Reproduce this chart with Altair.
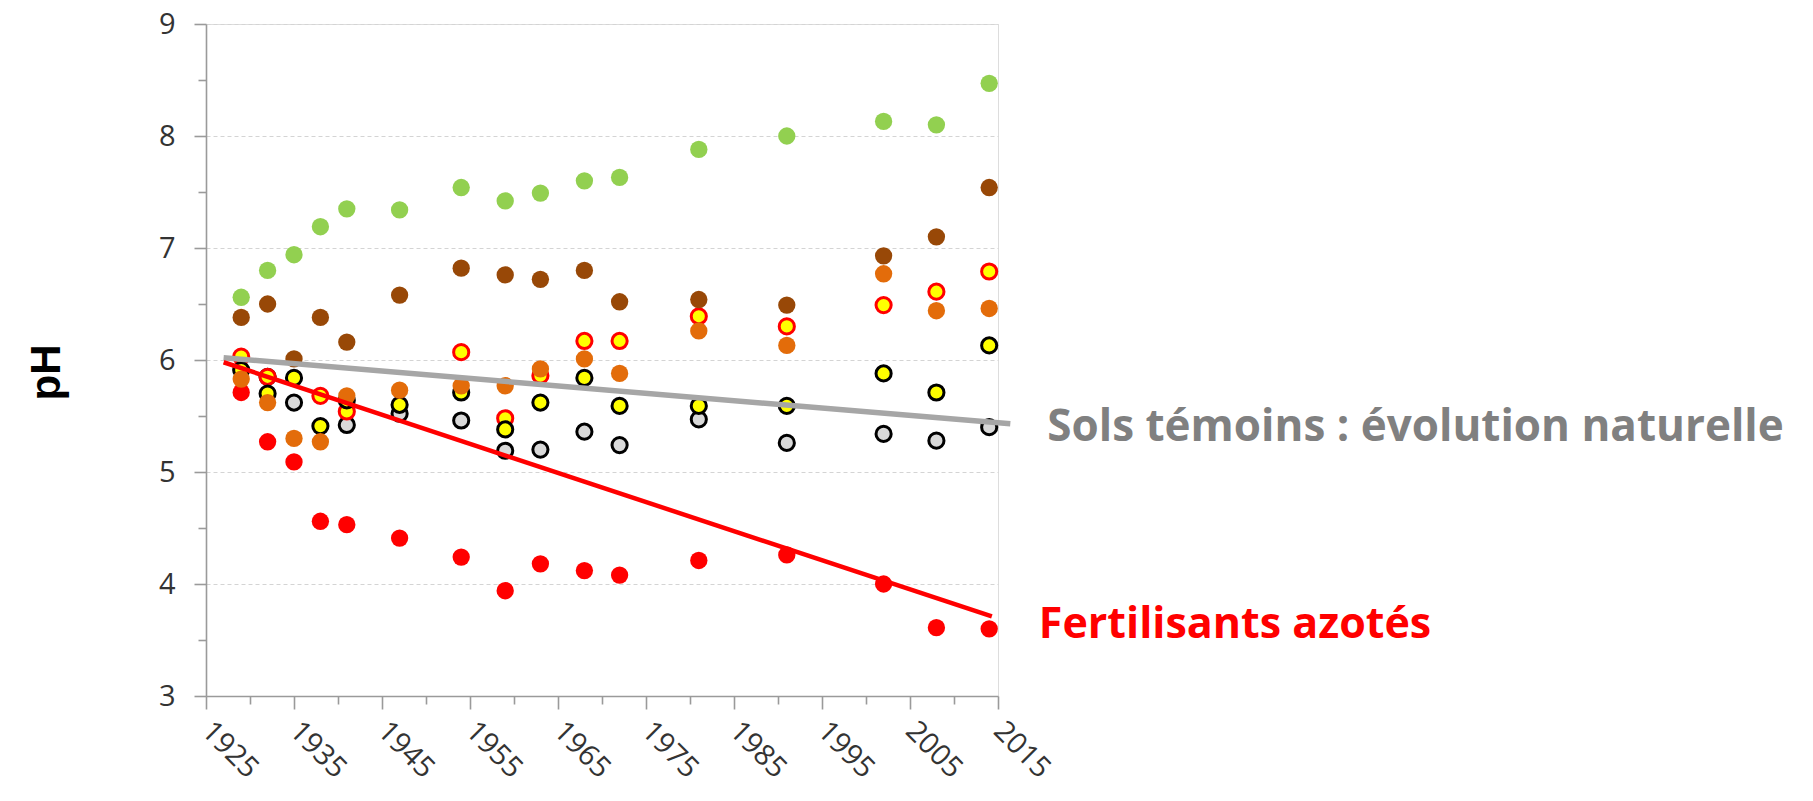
import altair as alt
import pandas as pd

# ---- data ----
years = [1929, 1932, 1935, 1938, 1941, 1947, 1954, 1959, 1963, 1968, 1972, 1981, 1991, 2002, 2008, 2014]

ph_green = [6.56, 6.80, 6.94, 7.19, 7.35, 7.34, 7.54, 7.42, 7.49, 7.60, 7.63, 7.88, 8.00, 8.13, 8.10, 8.47]
ph_brown = [6.38, 6.50, 6.01, 6.38, 6.16, 6.58, 6.82, 6.76, 6.72, 6.80, 6.52, 6.54, 6.49, 6.93, 7.10, 7.54]
ph_orange = [5.83, 5.62, 5.30, 5.27, 5.68, 5.73, 5.77, 5.77, 5.92, 6.01, 5.88, 6.26, 6.13, 6.77, 6.44, 6.46]
ph_yellow_red = [6.03, 5.85, None, 5.68, 5.54, None, 6.07, 5.48, 5.86, 6.17, 6.17, 6.39, 6.30, 6.49, 6.61, 6.79]
ph_yellow_black = [5.91, 5.70, 5.84, 5.41, 5.64, 5.60, 5.71, 5.38, 5.62, 5.84, 5.59, 5.59, 5.59, 5.88, 5.71, 6.13]
ph_grey = [None, 5.85, 5.62, None, 5.42, 5.52, 5.46, 5.19, 5.20, 5.36, 5.24, 5.47, 5.26, 5.34, 5.28, 5.40]
ph_red = [5.71, 5.27, 5.09, 4.56, 4.53, 4.41, 4.24, 3.94, 4.18, 4.12, 4.08, 4.21, 4.26, 4.00, 3.61, 3.60]

trend_grey_years = [1927.0, 2016.4]
trend_grey_ph = [6.02, 5.43]
trend_red_years = [1927.0, 2014.3]
trend_red_ph = [5.98, 3.71]

label_grey = "Sols témoins : évolution naturelle"
label_red = "Fertilisants azotés"

x_major = [1925, 1935, 1945, 1955, 1965, 1975, 1985, 1995, 2005, 2015]
x_minor = [1930, 1940, 1950, 1960, 1970, 1980, 1990, 2000, 2010]
y_major = [3, 4, 5, 6, 7, 8, 9]
y_minor = [3.5, 4.5, 5.5, 6.5, 7.5, 8.5]

# ---- styling ----
AXIS_COL = "#9a9a9a"
FONT = "Open Sans"
PLOT_H = 672
xscale = alt.Scale(domain=[1925, 2015], nice=False, zero=False)
yscale = alt.Scale(domain=[3, 9], nice=False, zero=False)

ax_x_major = alt.Axis(values=x_major, format="d", labelAngle=45, labelAlign="left",
                      labelBaseline="middle", labelFontSize=29, labelFont=FONT,
                      labelColor="#333333", tickSize=13, tickColor=AXIS_COL, tickWidth=1.6,
                      domainColor=AXIS_COL, domainWidth=1.6, grid=False, title=None,
                      labelPadding=17, labelOverlap=False, orient="bottom")
ax_x_minor = alt.Axis(values=x_minor, labels=False, tickSize=8, tickColor=AXIS_COL,
                      tickWidth=1.6, domain=False, grid=False, title=None, orient="bottom")
ax_y_major = alt.Axis(values=y_major, format="d", labelFontSize=29, labelFont=FONT,
                      labelColor="#333333", tickSize=12, tickColor=AXIS_COL, tickWidth=1.6,
                      domainColor=AXIS_COL, domainWidth=1.6, grid=True, gridColor="#d4d4d4",
                      gridDash=[4, 3], gridWidth=1, labelPadding=19, title="pH",
                      titleFont="Liberation Sans", titleFontSize=42, titleFontWeight="bold",
                      titleColor="#000000", titlePadding=90, titleY=348, orient="left")
ax_y_minor = alt.Axis(values=y_minor, labels=False, tickSize=8, tickColor=AXIS_COL,
                      tickWidth=1.6, domain=False, grid=False, title=None, orient="left")


def points(values, fill, stroke=None, axx=None, axy=None):
    df = pd.DataFrame({"annee": years, "pH": values}).dropna()
    if stroke:
        mark = alt.Chart(df).mark_circle(filled=True, fill=fill, stroke=stroke, strokeWidth=3,
                                         size=230, opacity=1, fillOpacity=1, strokeOpacity=1)
    else:
        mark = alt.Chart(df).mark_circle(filled=True, fill=fill, strokeWidth=0, size=300,
                                         opacity=1, fillOpacity=1)
    return mark.encode(
        x=alt.X("annee:Q", scale=xscale, axis=axx),
        y=alt.Y("pH:Q", scale=yscale, axis=axy),
    )


def trend(xs, ys, color, width):
    df = pd.DataFrame({"annee": xs, "pH": ys})
    return alt.Chart(df).mark_line(color=color, strokeWidth=width, clip=False).encode(
        x=alt.X("annee:Q", scale=xscale, axis=None),
        y=alt.Y("pH:Q", scale=yscale, axis=None),
    )


def label(xs, ys, text, color, dx, dy, size):
    df = pd.DataFrame({"annee": [xs[-1]], "pH": [ys[-1]], "texte": [text]})
    return alt.Chart(df).mark_text(align="left", baseline="middle", dx=dx, dy=dy,
                                   font=FONT, fontSize=size, fontWeight="bold",
                                   color=color, clip=False).encode(
        x=alt.X("annee:Q", scale=xscale, axis=None),
        y=alt.Y("pH:Q", scale=yscale, axis=None),
        text="texte:N",
    )


layers = [
    points(ph_red, "#ff0000", axx=ax_x_major, axy=ax_y_major),
    points(ph_grey, "#d9d9d9", "#000000", axx=ax_x_minor, axy=ax_y_minor),
    points(ph_yellow_red, "#ffff00", "#ff0000"),
    points(ph_yellow_black, "#ffff00", "#000000"),
    points(ph_orange, "#e36c0a"),
    points(ph_brown, "#984807"),
    points(ph_green, "#92d050"),
    trend(trend_grey_years, trend_grey_ph, "#a6a6a6", 5.5),
    trend(trend_red_years, trend_red_ph, "#ff0000", 4.5),
    label(trend_grey_years, trend_grey_ph, label_grey, "#808080", 37, 4, 44),
    label(trend_red_years, trend_red_ph, label_red, "#ff0000", 47, 9, 43),
]

chart = alt.layer(*layers).resolve_axis(x="independent", y="independent").properties(
    width=792,
    height=PLOT_H,
    autosize=alt.AutoSizeParams(type="none"),
    padding={"left": 198, "top": 16, "right": 792, "bottom": 96},
).configure_view(stroke=None).configure(background="#ffffff")

chart.save("out.html", embed_options={"renderer": "svg", "actions": False})
